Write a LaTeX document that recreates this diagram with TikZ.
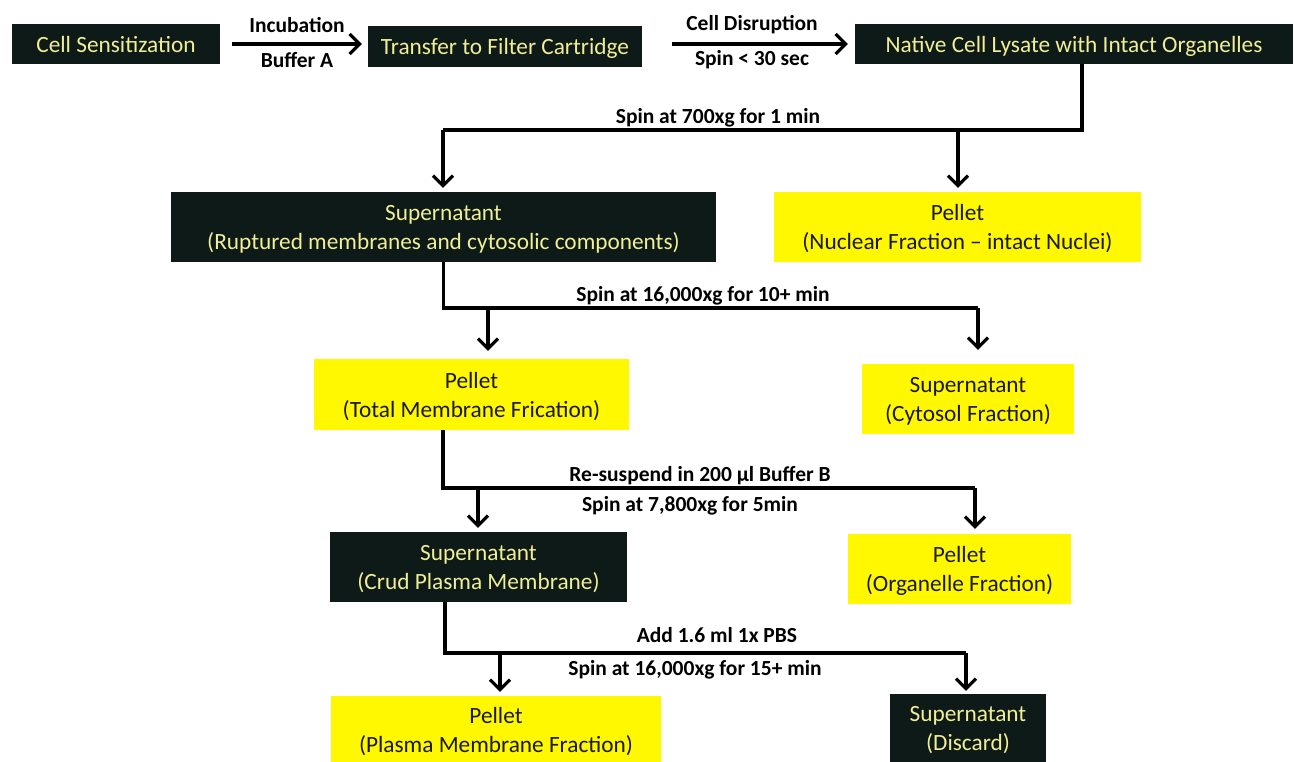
\documentclass[tikz,border=0pt]{standalone}
\usepackage{fontspec}
\setmainfont{Carlito}
\usetikzlibrary{arrows.meta}
\definecolor{boxdark}{RGB}{14,26,23}
\definecolor{boxtext}{RGB}{240,238,150}
\definecolor{boxyel}{RGB}{255,248,0}
\definecolor{inkdark}{RGB}{25,25,25}
\begin{document}
\begin{tikzpicture}[x=1pt,y=-1pt,
  base/.style={inner sep=0pt, align=center, text depth=0pt, font=\fontsize{23.3}{29}\selectfont},
  dbox/.style={base, fill=boxdark, text=boxtext},
  ybox/.style={base, fill=boxyel, text=inkdark},
  lab/.style={font=\bfseries\fontsize{21.5}{24}\selectfont, text=black, inner sep=0pt},
  conn/.style={line width=3.2pt, black},
  arr/.style={conn, -{Straight Barb[length=10pt,width=20pt,line width=3.2pt]}}]
\useasboundingbox (0,0) rectangle (1294,762);
% top row
\node[dbox, minimum width=208pt, minimum height=40pt] (cs) at (116,44) {Cell Sensitization};
\node[dbox, minimum width=274pt, minimum height=41pt] (tf) at (505,46.5) {Transfer to Filter Cartridge};
\node[dbox, minimum width=438pt, minimum height=40pt] (ly) at (1074,44) {Native Cell Lysate with Intact Organelles};
% level 1
\node[dbox, minimum width=545pt, minimum height=70pt] (s1) at (443.5,227) {Supernatant\\(Ruptured membranes and cytosolic components)};
\node[ybox, minimum width=367pt, minimum height=70pt] (p1) at (957.5,227) {Pellet\\(Nuclear Fraction -- intact Nuclei)};
% level 2
\node[ybox, minimum width=315pt, minimum height=71pt] (p2) at (471.5,394.5) {Pellet\\(Total Membrane Frication)};
\node[ybox, minimum width=212pt, minimum height=70pt] (s2) at (968,399) {Supernatant\\(Cytosol Fraction)};
% level 3
\node[dbox, minimum width=297pt, minimum height=70pt] (s3) at (478.5,567) {Supernatant\\(Crud Plasma Membrane)};
\node[ybox, minimum width=223pt, minimum height=70pt] (p3) at (959.5,569) {Pellet\\(Organelle Fraction)};
% level 4
\node[ybox, minimum width=330pt, minimum height=68pt] (p4) at (496,730) {Pellet\\(Plasma Membrane Fraction)};
\node[dbox, minimum width=156pt, minimum height=68pt] (s4) at (968,728) {Supernatant\\(Discard)};

% top arrows
\draw[arr] ([xshift=12pt]cs.east) -- ([xshift=-6pt]tf.west |- cs.east)
  node[lab, midway, yshift=19pt] (l1a) {Incubation}
  node[lab, midway, yshift=-16pt] (l1b) {Buffer A};
\draw[arr] ([xshift=30pt]tf.east |- ly.west) -- ([xshift=-7pt]ly.west);
\node[lab] (l2a) at (752,25) {Cell Disruption};
\node[lab] (l2b) at (752,60) {Spin < 30 sec};

% branch 1
\coordinate (b1l) at (443,130);
\coordinate (b1r) at (958,130);
\draw[conn] ([xshift=8pt]ly.south) |- (b1l);
\draw[arr] (b1l) -- ([yshift=4pt]b1l |- s1.north);
\draw[arr] (b1r) -- ([yshift=4pt]b1r |- p1.north);
\node[lab] (l3) at (718,118) {Spin at 700xg for 1 min};

% branch 2
\coordinate (b2l) at (488,308);
\coordinate (b2r) at (978,308);
\draw[conn] (s1.south) |- (b2r);
\draw[arr] (b2l) -- ([yshift=8pt]b2l |- p2.north);
\draw[arr] (b2r) -- ([yshift=14pt]b2r |- s2.north);
\node[lab] (l4) at (703,296) {Spin at 16,000xg for 10+ min};

% branch 3
\coordinate (b3l) at (478,488);
\coordinate (b3r) at (975,488);
\draw[conn] ([xshift=-28.5pt]p2.south) |- (b3r);
\draw[arr] (b3l) -- ([yshift=4pt]b3l |- s3.north);
\draw[arr] (b3r) -- ([yshift=5pt]b3r |- p3.north);
\node[lab] (l5a) at (700,476) {Re-suspend in 200 µl Buffer B};
\node[lab] (l5b) at (690,506) {Spin at 7,800xg for 5min};

% branch 4
\coordinate (b4l) at (500,653);
\coordinate (b4r) at (966,653);
\draw[conn] ([xshift=-33.5pt]s3.south) |- (b4r);
\draw[arr] (b4l) -- ([yshift=4pt]b4l |- p4.north);
\draw[arr] (b4r) -- ([yshift=3pt]b4r |- s4.north);
\node[lab] (l6a) at (717,635) {Add 1.6 ml 1x PBS};
\node[lab] (l6b) at (695,670) {Spin at 16,000xg for 15+ min};
\end{tikzpicture}
\end{document}
